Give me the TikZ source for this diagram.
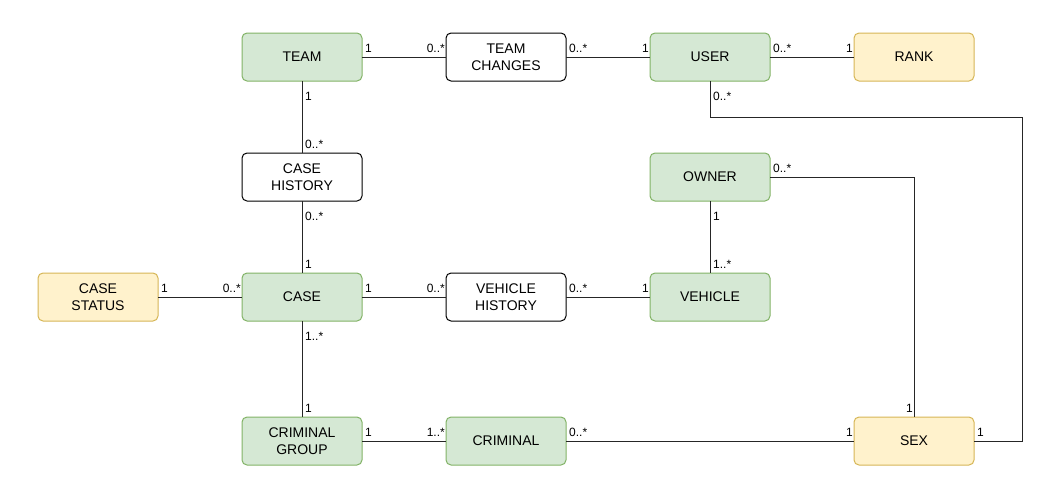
\documentclass[tikz,border=0pt]{standalone}
\usepackage{fontspec}
\setmainfont{Liberation Sans}
\definecolor{gfill}{HTML}{D5E8D4}
\definecolor{gdraw}{HTML}{82B366}
\definecolor{yfill}{HTML}{FFF2CC}
\definecolor{ydraw}{HTML}{D6B656}
\tikzset{
  box/.style={rectangle, rounded corners=5pt, minimum width=120pt, minimum height=48pt,
    inner sep=0pt, outer sep=0pt, line width=1pt, align=center,
    font=\fontsize{14}{17}\selectfont},
  gbox/.style={box, draw=gdraw, fill=gfill},
  ybox/.style={box, draw=ydraw, fill=yfill},
  wbox/.style={box, draw=black, fill=white},
  lab/.style={inner sep=0pt, font=\fontsize{12}{14}\selectfont},
  conn/.style={draw=black!85, line width=1pt},
}
\begin{document}
\begin{tikzpicture}[x=1pt,y=-1pt]
\useasboundingbox (0,0) rectangle (1047,477);
% nodes
\node[gbox] (team) at (302,57) {TEAM};
\node[wbox] (tc) at (506,57) {TEAM\\CHANGES};
\node[gbox] (user) at (710,57) {USER};
\node[ybox] (rank) at (914,57) {RANK};
\node[wbox] (ch) at (302,177) {CASE\\HISTORY};
\node[gbox] (owner) at (710,177) {OWNER};
\node[ybox] (cs) at (98,297) {CASE\\STATUS};
\node[gbox] (case) at (302,297) {CASE};
\node[wbox] (vh) at (506,297) {VEHICLE\\HISTORY};
\node[gbox] (veh) at (710,297) {VEHICLE};
\node[gbox] (cg) at (302,441) {CRIMINAL\\GROUP};
\node[gbox] (crim) at (506,441) {CRIMINAL};
\node[ybox] (sex) at (914,441) {SEX};
\coordinate (u1) at (710,117);
\coordinate (u2) at (1022,117);
\coordinate (u3) at (1022,441);
\coordinate (o1) at (914,177);
% connectors
\draw[conn] (team.east) -- (tc.west);
\draw[conn] (tc.east) -- (user.west);
\draw[conn] (user.east) -- (rank.west);
\draw[conn] (team.south) -- (ch.north);
\draw[conn] (ch.south) -- (case.north);
\draw[conn] (cs.east) -- (case.west);
\draw[conn] (case.east) -- (vh.west);
\draw[conn] (vh.east) -- (veh.west);
\draw[conn] (owner.south) -- (veh.north);
\draw[conn] (case.south) -- (cg.north);
\draw[conn] (cg.east) -- (crim.west);
\draw[conn] (crim.east) -- (sex.west);
\draw[conn] (user.south) -- (u1) -- (u2) -- (u3) -- (sex.east);
\draw[conn] (owner.east) -- (o1) -- (sex.north);
% labels horizontal
\node[lab, anchor=base west] at ([xshift=3pt,yshift=5pt]team.east) {1};
\node[lab, anchor=base east] at ([xshift=-1pt,yshift=5pt]tc.west) {0..*};
\node[lab, anchor=base west] at ([xshift=3pt,yshift=5pt]tc.east) {0..*};
\node[lab, anchor=base east] at ([xshift=-1pt,yshift=5pt]user.west) {1};
\node[lab, anchor=base west] at ([xshift=3pt,yshift=5pt]user.east) {0..*};
\node[lab, anchor=base east] at ([xshift=-1pt,yshift=5pt]rank.west) {1};
\node[lab, anchor=base west] at ([xshift=3pt,yshift=5pt]cs.east) {1};
\node[lab, anchor=base east] at ([xshift=-1pt,yshift=5pt]case.west) {0..*};
\node[lab, anchor=base west] at ([xshift=3pt,yshift=5pt]case.east) {1};
\node[lab, anchor=base east] at ([xshift=-1pt,yshift=5pt]vh.west) {0..*};
\node[lab, anchor=base west] at ([xshift=3pt,yshift=5pt]vh.east) {0..*};
\node[lab, anchor=base east] at ([xshift=-1pt,yshift=5pt]veh.west) {1};
\node[lab, anchor=base west] at ([xshift=3pt,yshift=5pt]cg.east) {1};
\node[lab, anchor=base east] at ([xshift=-1pt,yshift=5pt]crim.west) {1..*};
\node[lab, anchor=base west] at ([xshift=3pt,yshift=5pt]crim.east) {0..*};
\node[lab, anchor=base east] at ([xshift=-1pt,yshift=5pt]sex.west) {1};
\node[lab, anchor=base west] at ([xshift=3pt,yshift=5pt]sex.east) {1};
\node[lab, anchor=base west] at ([xshift=3pt,yshift=5pt]owner.east) {0..*};
% labels vertical
\node[lab, anchor=base west] at ([xshift=3pt,yshift=-19pt]team.south) {1};
\node[lab, anchor=base west] at ([xshift=3pt,yshift=5pt]ch.north) {0..*};
\node[lab, anchor=base west] at ([xshift=3pt,yshift=-19pt]ch.south) {0..*};
\node[lab, anchor=base west] at ([xshift=3pt,yshift=5pt]case.north) {1};
\node[lab, anchor=base west] at ([xshift=3pt,yshift=-19pt]case.south) {1..*};
\node[lab, anchor=base west] at ([xshift=3pt,yshift=5pt]cg.north) {1};
\node[lab, anchor=base west] at ([xshift=3pt,yshift=-19pt]user.south) {0..*};
\node[lab, anchor=base west] at ([xshift=3pt,yshift=-19pt]owner.south) {1};
\node[lab, anchor=base west] at ([xshift=3pt,yshift=5pt]veh.north) {1..*};
\node[lab, anchor=base east] at ([xshift=-1pt,yshift=5pt]sex.north) {1};
\end{tikzpicture}
\end{document}
